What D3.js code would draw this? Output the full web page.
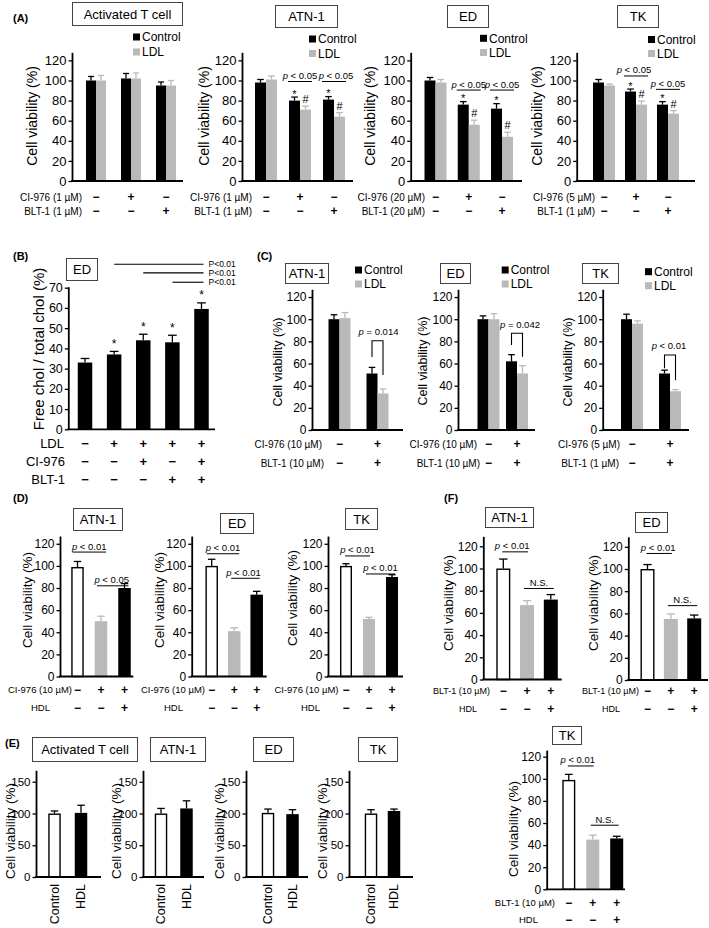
<!DOCTYPE html>
<html><head><meta charset="utf-8">
<script src="https://cdn.jsdelivr.net/npm/d3@7"></script>
<style>
body{margin:0;background:#fff}
svg{display:block}
text{font-family:'Liberation Sans',Arial,Helvetica,sans-serif;fill:#000}
</style>
</head><body>
<svg id="fig" width="709" height="928"></svg>
<script>
// ================= DATA =================
// Panel A : cell viability, Control vs LDL
const aCI976Row = ["−","+","−"];
const aBLT1Row  = ["−","−","+"];
const aCILabels  = ["CI-976 (1 µM)","CI-976 (1 µM)","CI-976 (20 µM)","CI-976 (5 µM)"];
const aBLTLabels = ["BLT-1 (1 µM)","BLT-1 (1 µM)","BLT-1 (20 µM)","BLT-1 (1 µM)"];
const aTcellControl = [100,102,95], aTcellControlSE = [4,5,3.5];
const aTcellLDL     = [100,102,95], aTcellLDLSE     = [5,5.5,5];
const aAtnControl   = [98,80,81],   aAtnControlSE   = [3,3.5,3];
const aAtnLDL       = [101,71,64],  aAtnLDLSE       = [3.5,3.5,4];
const aEdControl    = [100,76,72],  aEdControlSE    = [3,3,5];
const aEdLDL        = [98,56,44],   aEdLDLSE        = [3,4.5,4.5];
const aTkControl    = [98,89,76],   aTkControlSE    = [3,2.5,3];
const aTkLDL        = [95,76,67],   aTkLDLSE        = [1.5,3.5,3];
const legendLabels  = ["Control","LDL"];

// Panel B : free chol / total chol (ED)
const bLDLRow  = ["−","+","+","+","+"];
const bCIRow   = ["−","−","+","−","+"];
const bBLTRow  = ["−","−","−","+","+"];
const bFreeChol   = [33,37,44,43,59.5];
const bFreeCholSE = [2,1.5,3,3.5,3];
const bStars      = [1,2,3,4];
const bComparisons = [{from:1,to:4,v:81.6,label:"P<0.01"},{from:2,to:4,v:77.3,label:"P<0.01"},{from:3,to:4,v:72.7,label:"P<0.01"}];

// Panel C : CI-976 + BLT-1
const cCIRow  = ["−","+"];
const cBLTRow = ["−","+"];
const cAtnControl = [100,51], cAtnControlSE = [4,5.5];
const cAtnLDL     = [101,33], cAtnLDLSE     = [5,4];
const cEdControl  = [100,62], cEdControlSE  = [3,6];
const cEdLDL      = [100,51], cEdLDLSE      = [5,7];
const cTkControl  = [100,51], cTkControlSE  = [4.5,3];
const cTkLDL      = [96,35],  cTkLDLSE      = [2.5,1.5];
const cPLabels    = ["p = 0.014","p = 0.042","p < 0.01"];

// Panel D : CI-976 +/- HDL
const dCIRow  = ["−","+","+"];
const dHDLRow = ["−","−","+"];
const dAtn = [99,50,80],  dAtnSE = [5,4.5,4];
const dEd  = [100,41,74], dEdSE  = [6,3,3];
const dTk  = [100,52,90], dTkSE  = [2,1.5,2];

// Panel F : BLT-1 +/- HDL
const fBLTRow = ["−","+","+"];
const fHDLRow = ["−","−","+"];
const fAtn = [100,67,72], fAtnSE = [8.5,4,4.5];
const fEd  = [100,55,55.5], fEdSE = [4,4.5,3];
const fTk  = [99,45,46],  fTkSE  = [5,4,2];

// Panel E : HDL alone
const eGroups = ["Control","HDL"];
const eTcell = [100,101], eTcellSE = [4,12];
const eAtn   = [100,108], eAtnSE   = [8,12];
const eEd    = [101,99],  eEdSE    = [6,7];
const eTk    = [100,104], eTkSE    = [6,3];

// ================= DRAWING =================
const GRAY="#b9b9b9", BLACK="#000", WHITE="#fff";
const svg=d3.select("#fig");
svg.append("rect").attr("width",709).attr("height",928).attr("fill","#fff");

function txt(g,x,y,s,size,o={}){
  const t=g.append("text").attr("x",x).attr("y",y).attr("font-size",size)
    .attr("dy",o.dy===undefined?"0.35em":o.dy).attr("text-anchor",o.anchor||"start");
  if(o.weight) t.attr("font-weight",o.weight);
  t.text(s); return t;
}
function pText(g,x,y,s,size){
  const t=g.append("text").attr("x",x).attr("y",y).attr("font-size",size).attr("text-anchor","middle");
  if(s.startsWith("p")){t.append("tspan").attr("font-style","italic").text("p");t.append("tspan").text(s.slice(1));}
  else t.text(s);
  return t;
}
function box(g,b){
  g.append("rect").attr("x",b.x+0.5).attr("y",b.y+0.5).attr("width",b.w).attr("height",b.h)
    .attr("fill","none").attr("stroke","#444").attr("stroke-width",1);
  txt(g,b.x+b.w/2+0.5,b.y+b.h/2+0.5,b.text,b.size||13,{anchor:"middle"});
}

function chart(c){
  const g=svg.append("g");
  const y=d3.scaleLinear().domain([0,c.top]).range([c.y0,c.y0-c.top*c.ppu]);
  const n=c.series[0].vals.length, ns=c.series.length;
  const x=d3.scalePoint().domain(d3.range(n)).range([c.c1,c.cN]);
  const sub=d3.scaleBand().domain(d3.range(ns)).range([-c.barW*ns/2,c.barW*ns/2]);
  const bw=sub.bandwidth();
  const bx=(i,s)=>x(i)+sub(s), bc=(i,s)=>bx(i,s)+bw/2;
  const valAt=(i,s)=>c.series[s].vals[i]+c.series[s].se[i];

  c.series.forEach((s,si)=>{
    s.vals.forEach((v,i)=>{
      const fill=s.fills?s.fills[i]:s.fill;
      const ec=fill===WHITE?BLACK:fill;
      const cx=bc(i,si), et=y(v+s.se[i]), cw=bw*0.6;
      g.append("line").attr("x1",cx).attr("x2",cx).attr("y1",y(v)).attr("y2",et).attr("stroke",ec).attr("stroke-width",1.3);
      g.append("line").attr("x1",cx-cw/2).attr("x2",cx+cw/2).attr("y1",et).attr("y2",et).attr("stroke",ec).attr("stroke-width",1.3);
      const wb=fill===WHITE;
      g.append("rect").attr("x",bx(i,si)+(wb?0.7:0)).attr("y",y(v)+(wb?0.7:0))
        .attr("width",bw-(wb?1.4:0)).attr("height",c.y0-y(v)-(wb?0.7:0))
        .attr("fill",fill).attr("stroke",wb?BLACK:"none").attr("stroke-width",1.4);
    });
  });

  const ax=d3.axisLeft(y).tickValues(c.ticks).tickSize(3.5).tickSizeOuter(0).tickPadding(2);
  const ag=g.append("g").attr("transform",`translate(${c.x0},0)`).call(ax);
  ag.select(".domain").attr("stroke-width",1.8);
  ag.selectAll(".tick line").attr("stroke-width",1.3);
  ag.selectAll(".tick text").attr("font-size",c.tickSize).attr("font-family","'Liberation Sans',Arial,sans-serif");
  g.append("line").attr("x1",c.x0-0.9).attr("x2",c.xEnd).attr("y1",c.y0).attr("y2",c.y0).attr("stroke",BLACK).attr("stroke-width",1.8);

  if(c.ylab){
    g.append("text").attr("transform",`translate(${c.ylab.x},${c.ylab.y}) rotate(-90)`)
      .attr("text-anchor","middle").attr("dy","0.35em").attr("font-size",c.ylab.size).text(c.ylab.text);
  }
  if(c.box) box(g,c.box);
  if(c.legend){
    [BLACK,GRAY].forEach((col,k)=>{
      const cy=c.legend.y+k*c.legend.dy;
      g.append("rect").attr("x",c.legend.x).attr("y",cy-3.5).attr("width",7).attr("height",7).attr("fill",col);
      txt(g,c.legend.x+9,cy,legendLabels[k],c.legend.size||12);
    });
  }
  (c.rows||[]).forEach(r=>{
    if(r.label) txt(g,r.right,r.y,r.label,r.size||10,{anchor:"end"});
    r.signs.forEach((s,i)=>txt(g,x(i),r.y,s,r.signSize||12,{anchor:"middle",weight:"bold"}));
  });
  (c.marks||[]).forEach(m=>{
    const et=y(valAt(m.g,m.s));
    const off=m.sym==="#"?-3:(m.off===undefined?0.5:m.off);
    txt(g,bc(m.g,m.s),et+off,m.sym,m.size||11,{anchor:"middle",dy:0});
  });
  (c.sig||[]).forEach(s=>{
    const xa=s.pair?bc(s.pair[0],0)-s.ext:bx(s.g,0)-1, xb=s.pair?bc(s.pair[1],0)+s.ext:bx(s.g,ns-1)+bw+1;
    g.append("line").attr("x1",xa).attr("x2",xb).attr("y1",y(s.v)).attr("y2",y(s.v)).attr("stroke",BLACK).attr("stroke-width",1);
    pText(g,(xa+xb)/2+(s.dx||0),y(s.v)-2.5,s.label,s.size||9.5);
  });
  (c.brackets||[]).forEach(b=>{
    const xl=bc(b.g,0), xr=bc(b.g,1);
    g.append("path").attr("d",`M${xl},${y(b.vL)}V${y(b.vTop)}H${xr}V${y(b.vR)}`)
      .attr("fill","none").attr("stroke",BLACK).attr("stroke-width",1.1);
    pText(g,(xl+xr)/2+(b.dx||0),y(b.vTop)-5.5,b.label,9.5);
  });
  (c.comps||[]).forEach(cp=>{
    const xe=bc(cp.to,0)+2;
    g.append("line").attr("x1",bc(cp.from,0)).attr("x2",xe).attr("y1",y(cp.v)).attr("y2",y(cp.v)).attr("stroke",BLACK).attr("stroke-width",1.1);
    txt(g,xe+5,y(cp.v),cp.label,8.5);
  });
  if(c.xRot){
    c.xRot.labels.forEach((l,i)=>{
      g.append("text").attr("transform",`translate(${x(i)},${c.xRot.y}) rotate(-90)`)
        .attr("text-anchor","end").attr("dy","0.35em").attr("font-size",c.xRot.size).text(l);
    });
  }
  return {x,y};
}

const T120=[0,20,40,60,80,100,120];
const VIA="Cell viability (%)";
const aMarks=[{g:1,s:0,sym:"*"},{g:1,s:1,sym:"#"},{g:2,s:0,sym:"*"},{g:2,s:1,sym:"#"}];

const lg=svg.append("g");
[["(A)",13,18],["(B)",13,256],["(C)",257,256],["(D)",13,498],["(F)",444,498],["(E)",5,743]]
  .forEach(d=>txt(lg,d[1],d[2],d[0],11,{weight:"bold"}));

// ---------- A ----------
const aRows=(ci,blt,right)=>[{label:ci,right,y:197,signs:aCI976Row},{label:blt,right,y:211,signs:aBLT1Row}];
chart({y0:181,ppu:1.005,top:128,x0:72,xEnd:183,c1:96,cN:166,barW:10,ticks:T120,tickSize:13,
  series:[{vals:aTcellControl,se:aTcellControlSE,fill:BLACK},{vals:aTcellLDL,se:aTcellLDLSE,fill:GRAY}],
  ylab:{text:VIA,x:32.5,y:116,size:14},box:{x:72,y:2,w:110,h:23,text:"Activated T cell"},
  legend:{x:133,y:37,dy:15},rows:aRows(aCILabels[0],aBLTLabels[0],82)});
chart({y0:181,ppu:1.005,top:128,x0:242,xEnd:353,c1:266,cN:334,barW:11,ticks:T120,tickSize:13,
  series:[{vals:aAtnControl,se:aAtnControlSE,fill:BLACK},{vals:aAtnLDL,se:aAtnLDLSE,fill:GRAY}],
  ylab:{text:VIA,x:204,y:116,size:14},box:{x:275,y:5,w:62,h:22,text:"ATN-1"},
  legend:{x:309,y:39,dy:14.5},rows:aRows(aCILabels[1],aBLTLabels[1],252),
  marks:aMarks,sig:[{g:1,v:99,label:"p < 0.05"},{g:2,v:99,label:"p < 0.05",dx:2}]});
chart({y0:181,ppu:1.005,top:128,x0:410.7,xEnd:522,c1:435.5,cN:502,barW:11,ticks:T120,tickSize:13,
  series:[{vals:aEdControl,se:aEdControlSE,fill:BLACK},{vals:aEdLDL,se:aEdLDLSE,fill:GRAY}],
  ylab:{text:VIA,x:370,y:116,size:14},box:{x:447,y:5,w:41,h:22,text:"ED"},
  legend:{x:480,y:38.3,dy:14.2},rows:aRows(aCILabels[2],aBLTLabels[2],425),
  marks:aMarks,sig:[{g:1,v:90.5,label:"p < 0.05"},{g:2,v:90.5,label:"p < 0.05"}]});
chart({y0:181,ppu:1.005,top:128,x0:576.7,xEnd:695,c1:604,cN:668,barW:11,ticks:T120,tickSize:13,
  series:[{vals:aTkControl,se:aTkControlSE,fill:BLACK},{vals:aTkLDL,se:aTkLDLSE,fill:GRAY}],
  ylab:{text:VIA,x:537.5,y:116,size:14},box:{x:617,y:5,w:41,h:22,text:"TK"},
  legend:{x:648,y:39.5,dy:14},rows:aRows(aCILabels[3],aBLTLabels[3],595),
  marks:aMarks,sig:[{g:1,v:104.5,label:"p < 0.05",dx:-2},{g:2,v:91.2,label:"p < 0.05"}]});

// ---------- B ----------
chart({y0:429.3,ppu:2.023,top:70.5,x0:68.3,xEnd:215,c1:85,cN:201.5,barW:14.5,ticks:[0,10,20,30,40,50,60,70],tickSize:12.5,
  series:[{vals:bFreeChol,se:bFreeCholSE,fill:BLACK}],
  ylab:{text:"Free chol / total chol (%)",x:38.5,y:349,size:15},box:{x:66,y:258,w:31,h:22,text:"ED"},
  rows:[{label:"LDL",right:64,y:443.3,signs:bLDLRow,size:13,signSize:13},
        {label:"CI-976",right:65,y:461.7,signs:bCIRow,size:13,signSize:13},
        {label:"BLT-1",right:65,y:479,signs:bBLTRow,size:13,signSize:13}],
  marks:bStars.map(i=>({g:i,s:0,sym:"*",size:12,off:-3.7})),comps:bComparisons});

// ---------- C ----------
const cRows=(ci,blt,r1,r2)=>[{label:ci,right:r1,y:444,signs:cCIRow},{label:blt,right:r2,y:463,signs:cBLTRow}];
chart({y0:430,ppu:1.108,top:127,x0:312,xEnd:403,c1:339.5,cN:377.5,barW:11,ticks:T120,tickSize:12,
  series:[{vals:cAtnControl,se:cAtnControlSE,fill:BLACK},{vals:cAtnLDL,se:cAtnLDLSE,fill:GRAY}],
  ylab:{text:VIA,x:278,y:362,size:12.5},box:{x:285,y:263,w:43,h:20,text:"ATN-1"},
  legend:{x:355,y:270,dy:14},rows:cRows("CI-976 (10 µM)","BLT-1 (10 µM)",322,324),
  brackets:[{g:1,vTop:80.6,vL:65.9,vR:49.6,label:cPLabels[0],dx:1}]});
chart({y0:430,ppu:1.108,top:127,x0:458,xEnd:535,c1:488.5,cN:517,barW:11,ticks:T120,tickSize:12,
  series:[{vals:cEdControl,se:cEdControlSE,fill:BLACK},{vals:cEdLDL,se:cEdLDLSE,fill:GRAY}],
  ylab:{text:VIA,x:423,y:361,size:12.5},box:{x:440,y:263,w:30,h:20,text:"ED"},
  legend:{x:501.7,y:270,dy:14},rows:cRows("CI-976  (10 µM)","BLT-1 (10 µM)",477,480),
  brackets:[{g:1,vTop:87.3,vL:76.7,vR:66,label:cPLabels[1],dx:3}]});
chart({y0:430,ppu:1.108,top:127,x0:602.7,xEnd:689,c1:632,cN:670,barW:11,ticks:T120,tickSize:12,
  series:[{vals:cTkControl,se:cTkControlSE,fill:BLACK},{vals:cTkLDL,se:cTkLDLSE,fill:GRAY}],
  ylab:{text:VIA,x:568,y:362,size:12.5},box:{x:582,y:263,w:36,h:20,text:"TK"},
  legend:{x:645,y:271.7,dy:14},rows:cRows("CI-976  (5 µM)","BLT-1 (1 µM)",620,619),
  brackets:[{g:1,vTop:67.7,vL:55.7,vR:45,label:cPLabels[2],dx:-1}]});

// ---------- D ----------
const dFills=[WHITE,GRAY,BLACK];
const dRows=(r1,r2)=>[{label:"CI-976 (10 µM)",right:r1,y:689.5,signs:dCIRow,size:9.5},{label:"HDL",right:r2,y:707.5,signs:dHDLRow,size:9.5}];
chart({y0:676.5,ppu:1.106,top:127,x0:60,xEnd:133.3,c1:77.5,cN:124.5,barW:12.5,ticks:T120,tickSize:12,
  series:[{vals:dAtn,se:dAtnSE,fills:dFills}],
  ylab:{text:VIA,x:27.5,y:600,size:13.5},box:{x:73,y:508,w:49,h:22,text:"ATN-1"},rows:dRows(72,50),
  sig:[{pair:[0,1],ext:5,v:112.5,label:"p < 0.01"},{pair:[1,2],ext:4,v:82,label:"p < 0.05",dx:-1}]});
chart({y0:676.5,ppu:1.106,top:127,x0:191.7,xEnd:266.7,c1:211.7,cN:256.7,barW:12.5,ticks:T120,tickSize:12,
  series:[{vals:dEd,se:dEdSE,fills:dFills}],
  ylab:{text:VIA,x:159,y:600,size:13.5},box:{x:220,y:513,w:33,h:20,text:"ED"},rows:dRows(205,183),
  sig:[{pair:[0,1],ext:5,v:111,label:"p < 0.01"},{pair:[1,2],ext:3,v:88.8,label:"p < 0.01",dx:-2}]});
chart({y0:676.5,ppu:1.106,top:127,x0:328,xEnd:403,c1:346,cN:392,barW:12,ticks:T120,tickSize:12,
  series:[{vals:dTk,se:dTkSE,fills:dFills}],
  ylab:{text:VIA,x:292.5,y:598,size:13.5},box:{x:345,y:508,w:32,h:21,text:"TK"},rows:dRows(338.5,320),
  sig:[{pair:[0,1],ext:1,v:109,label:"p < 0.01"},{pair:[1,2],ext:3,v:92.7,label:"p < 0.01"}]});

// ---------- F ----------
const fRows=(r1,r2)=>[{label:"BLT-1 (10 µM)",right:r1,y:691,signs:fBLTRow,size:9},{label:"HDL",right:r2,y:709,signs:fHDLRow,size:9}];
chart({y0:679.5,ppu:1.11,top:129,x0:483.3,xEnd:561.7,c1:503.3,cN:550.8,barW:14,ticks:T120,tickSize:12,
  series:[{vals:fAtn,se:fAtnSE,fills:dFills}],
  ylab:{text:VIA,x:448,y:603,size:13.5},box:{x:485,y:507,w:48,h:20,text:"ATN-1"},rows:fRows(490,477),
  sig:[{pair:[0,1],ext:1,v:115,label:"p < 0.01",dx:-3},{pair:[1,2],ext:3,v:82,label:"N.S."}]});
chart({y0:680,ppu:1.11,top:129,x0:628.3,xEnd:708,c1:647.5,cN:694.2,barW:14,ticks:T120,tickSize:12,
  series:[{vals:fEd,se:fEdSE,fills:dFills}],
  ylab:{text:VIA,x:593,y:603,size:13.5},box:{x:635,y:512,w:32,h:20,text:"ED"},rows:fRows(639,620),
  sig:[{pair:[0,1],ext:1,v:114,label:"p < 0.01",dx:-1},{pair:[1,2],ext:3,v:67,label:"N.S."}]});
chart({y0:889.3,ppu:1.105,top:126,x0:546.7,xEnd:625,c1:568.8,cN:616.7,barW:13,ticks:T120,tickSize:12,
  series:[{vals:fTk,se:fTkSE,fills:dFills}],
  ylab:{text:VIA,x:513,y:829,size:13.5},box:{x:552,y:726,w:29,h:18,text:"TK"},
  rows:[{label:"BLT-1 (10 µM)",right:555,y:902.8,signs:fBLTRow,size:9.5},{label:"HDL",right:538,y:919.3,signs:fHDLRow,size:9.5}],
  sig:[{pair:[0,1],ext:1,v:111.6,label:"p < 0.01",dx:-3},{pair:[1,2],ext:2,v:58,label:"N.S."}]});

// ---------- E ----------
const eFills=[WHITE,BLACK];
const eCfg=(vals,se,x0,xEnd,c1,cN,ylx,bx)=>({y0:877,ppu:0.635,top:168,x0,xEnd,c1,cN,barW:12.5,ticks:[0,50,100,150],tickSize:11.5,
  series:[{vals,se,fills:eFills}],ylab:{text:VIA,x:ylx,y:831,size:13.5},box:bx,
  xRot:{labels:eGroups,y:884,size:12.5}});
chart(eCfg(eTcell,eTcellSE,36,101,54.5,81,10,{x:32,y:737,w:105,h:24,text:"Activated T cell"}));
chart(eCfg(eAtn,eAtnSE,143,204,161,186.5,116,{x:150,y:737,w:55,h:24,text:"ATN-1"}));
chart(eCfg(eEd,eEdSE,246,308,268,292.5,219,{x:253,y:737,w:40,h:24,text:"ED"}));
chart(eCfg(eTk,eTkSE,349,413,371,394,322.5,{x:358,y:737,w:39,h:24,text:"TK"}));
</script>
</body></html>
